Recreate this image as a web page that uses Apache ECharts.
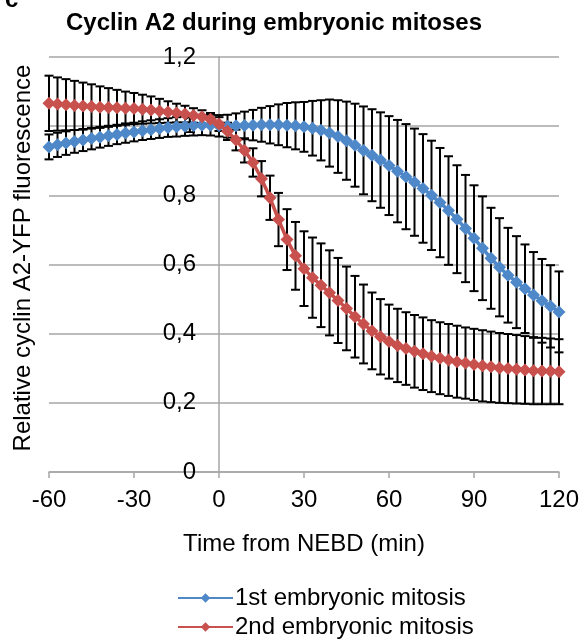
<!DOCTYPE html>
<html>
<head>
<meta charset="utf-8">
<script src="https://cdn.jsdelivr.net/npm/echarts@6/dist/echarts.min.js"></script>
<style>
  html, body { margin: 0; padding: 0; background: #fff; }
  #chart { width: 584px; height: 643px; }
</style>
</head>
<body>
<div id="chart"></div>
<script>
// Cyclin A2 during embryonic mitoses: mean ± error, sampled every 3 min
const times = [
  -60, -57, -54, -51, -48, -45, -42, -39, -36, -33, -30, -27, -24, -21, -18, -15, -12, -9, -6, -3, 0,
  3, 6, 9, 12, 15, 18, 21, 24, 27, 30, 33, 36, 39, 42, 45, 48, 51, 54, 57, 60,
  63, 66, 69, 72, 75, 78, 81, 84, 87, 90, 93, 96, 99, 102, 105, 108, 111, 114, 117, 120
];

const firstMean = [
  0.940, 0.946, 0.951, 0.956, 0.960, 0.964, 0.968, 0.972, 0.976, 0.980, 0.983, 0.987, 0.990, 0.993, 0.996, 0.998, 1.000, 1.002, 1.003, 1.003, 1.001,
  1.000, 1.001, 1.002, 1.003, 1.004, 1.004, 1.004, 1.003, 1.001, 0.998, 0.994, 0.988, 0.980, 0.970, 0.958, 0.945, 0.930, 0.916, 0.902, 0.886,
  0.870, 0.854, 0.838, 0.820, 0.800, 0.779, 0.756, 0.731, 0.704, 0.676, 0.647, 0.618, 0.592, 0.569, 0.549, 0.530, 0.512, 0.495, 0.479, 0.463
];
const firstErr = [
  0.036, 0.035, 0.034, 0.033, 0.032, 0.031, 0.030, 0.029, 0.028, 0.028, 0.027, 0.027, 0.027, 0.027, 0.027, 0.028, 0.028, 0.029, 0.029, 0.030, 0.031,
  0.033, 0.036, 0.040, 0.044, 0.049, 0.054, 0.059, 0.064, 0.068, 0.072, 0.079, 0.087, 0.097, 0.105, 0.113, 0.120, 0.127, 0.133, 0.138, 0.143,
  0.148, 0.152, 0.155, 0.157, 0.158, 0.158, 0.157, 0.156, 0.155, 0.153, 0.150, 0.146, 0.142, 0.137, 0.133, 0.128, 0.124, 0.121, 0.119, 0.117
];

const secondMean = [
  1.066, 1.064, 1.062, 1.060, 1.058, 1.057, 1.055, 1.054, 1.053, 1.052, 1.051, 1.049, 1.047, 1.044, 1.041, 1.038, 1.035, 1.031, 1.027, 1.020, 1.006,
  0.985, 0.960, 0.930, 0.895, 0.848, 0.793, 0.730, 0.672, 0.625, 0.588, 0.562, 0.540, 0.518, 0.496, 0.473, 0.449, 0.428, 0.408, 0.391, 0.377,
  0.366, 0.357, 0.349, 0.342, 0.335, 0.329, 0.324, 0.319, 0.315, 0.311, 0.307, 0.304, 0.301, 0.299, 0.297, 0.295, 0.293, 0.292, 0.291, 0.290
];
const secondErr = [
  0.080, 0.077, 0.074, 0.071, 0.068, 0.064, 0.060, 0.056, 0.052, 0.048, 0.045, 0.042, 0.039, 0.035, 0.031, 0.027, 0.024, 0.021, 0.019, 0.018, 0.020,
  0.025, 0.030, 0.035, 0.041, 0.051, 0.064, 0.077, 0.088, 0.098, 0.108, 0.116, 0.121, 0.123, 0.123, 0.121, 0.118, 0.114, 0.111, 0.109, 0.107,
  0.106, 0.105, 0.105, 0.105, 0.104, 0.104, 0.104, 0.104, 0.103, 0.103, 0.103, 0.102, 0.101, 0.100, 0.099, 0.098, 0.097, 0.096, 0.095, 0.094
];

const seriesNames = ['1st embryonic mitosis', '2nd embryonic mitosis'];
const seriesColors = ['#4f88c9', '#c8504d'];
const yTicks = { min: 0, max: 1.2, step: 0.2 };
const xTicks = { min: -60, max: 120, step: 30 };

const FONT = '"Liberation Sans", Arial, sans-serif';
const GRAY = '#a6a6a6';
const GRID = { left: 49, right: 25, top: 57, bottom: 171 };
const W = 584;

// the value axis sits at t = 0, so shift it right from the grid's left edge
const plotW = W - GRID.left - GRID.right;
const yAxisShift = (0 - xTicks.min) / (xTicks.max - xTicks.min) * plotW;

const chart = echarts.init(document.getElementById('chart'), null, { renderer: 'canvas' });

function errorBars(mean, err) {
  return times.map((t, i) => [t, mean[i] - err[i], mean[i] + err[i]]);
}

// vertical bar with caps at both ends
function renderErrorBar(params, api) {
  const lo = api.coord([api.value(0), api.value(1)]);
  const hi = api.coord([api.value(0), api.value(2)]);
  const cap = 4.5;
  const style = { stroke: '#000', lineWidth: 2 };
  return {
    type: 'group',
    children: [
      { type: 'line', shape: { x1: lo[0], y1: lo[1], x2: hi[0], y2: hi[1] }, style },
      { type: 'line', shape: { x1: lo[0] - cap, y1: lo[1], x2: lo[0] + cap, y2: lo[1] }, style },
      { type: 'line', shape: { x1: hi[0] - cap, y1: hi[1], x2: hi[0] + cap, y2: hi[1] }, style },
    ],
  };
}

const means = [firstMean, secondMean];
const errs = [firstErr, secondErr];

const series = [];
means.forEach((m, k) => {
  series.push({
    type: 'custom',
    name: seriesNames[k] + ' err',
    renderItem: renderErrorBar,
    data: errorBars(m, errs[k]),
    encode: { x: 0, y: [1, 2] },
    z: 1,
    silent: true,
  });
});
means.forEach((m, k) => {
  series.push({
    type: 'line',
    name: seriesNames[k],
    data: times.map((t, i) => [t, m[i]]),
    symbol: 'diamond',
    symbolSize: 13,
    showAllSymbol: true,
    lineStyle: { color: seriesColors[k], width: 3.5 },
    itemStyle: { color: seriesColors[k] },
    z: 3 + k,
  });
});

chart.setOption({
  animation: false,
  backgroundColor: '#fff',
  textStyle: { fontFamily: FONT },
  title: {
    text: 'Cyclin A2 during embryonic mitoses',
    left: 269, top: 6, textAlign: 'center',
    textStyle: { fontFamily: FONT, fontSize: 24, fontWeight: 'bold', color: '#000' },
  },
  grid: Object.assign({ containLabel: false }, GRID),
  legend: {
    data: seriesNames,
    orient: 'vertical',
    left: 177, top: 586, padding: 0,
    itemWidth: 55, itemHeight: 12, itemGap: 5,
    textStyle: { fontFamily: FONT, fontSize: 24, lineHeight: 24, color: '#000', padding: [0, 0, 0, -3] },
  },
  xAxis: {
    type: 'value',
    min: xTicks.min, max: xTicks.max, interval: xTicks.step,
    name: 'Time from NEBD (min)',
    nameLocation: 'middle', nameGap: 60,
    nameTextStyle: { fontFamily: FONT, fontSize: 24, color: '#000' },
    axisLine: { lineStyle: { color: GRAY, width: 1.5 } },
    axisTick: { show: true, length: 6, lineStyle: { color: GRAY, width: 1.5 } },
    axisLabel: { fontFamily: FONT, fontSize: 24, color: '#000', margin: 16 },
    splitLine: { show: false },
  },
  yAxis: {
    type: 'value',
    min: yTicks.min, max: yTicks.max, interval: yTicks.step,
    offset: -yAxisShift,
    axisLine: { show: true, onZero: false, lineStyle: { color: GRAY, width: 1.5 } },
    axisTick: { show: false },
    axisLabel: {
      fontFamily: FONT, fontSize: 24, color: '#000', margin: 23,
      formatter: v => String(+v.toFixed(1)).replace('.', ','),
    },
    splitLine: { lineStyle: { color: GRAY, width: 1.5 } },
  },
  graphic: [
    {
      type: 'text', left: 5, top: -12,
      style: { text: 'c', font: 'bold 24px ' + FONT, fill: '#000' },
    },
    {
      type: 'text', x: 23, y: 258, rotation: Math.PI / 2,
      style: {
        text: 'Relative cyclin A2-YFP fluorescence',
        font: '24px ' + FONT, fill: '#000',
        textAlign: 'center', textVerticalAlign: 'middle',
      },
    },
  ],
  series,
});
</script>
</body>
</html>
